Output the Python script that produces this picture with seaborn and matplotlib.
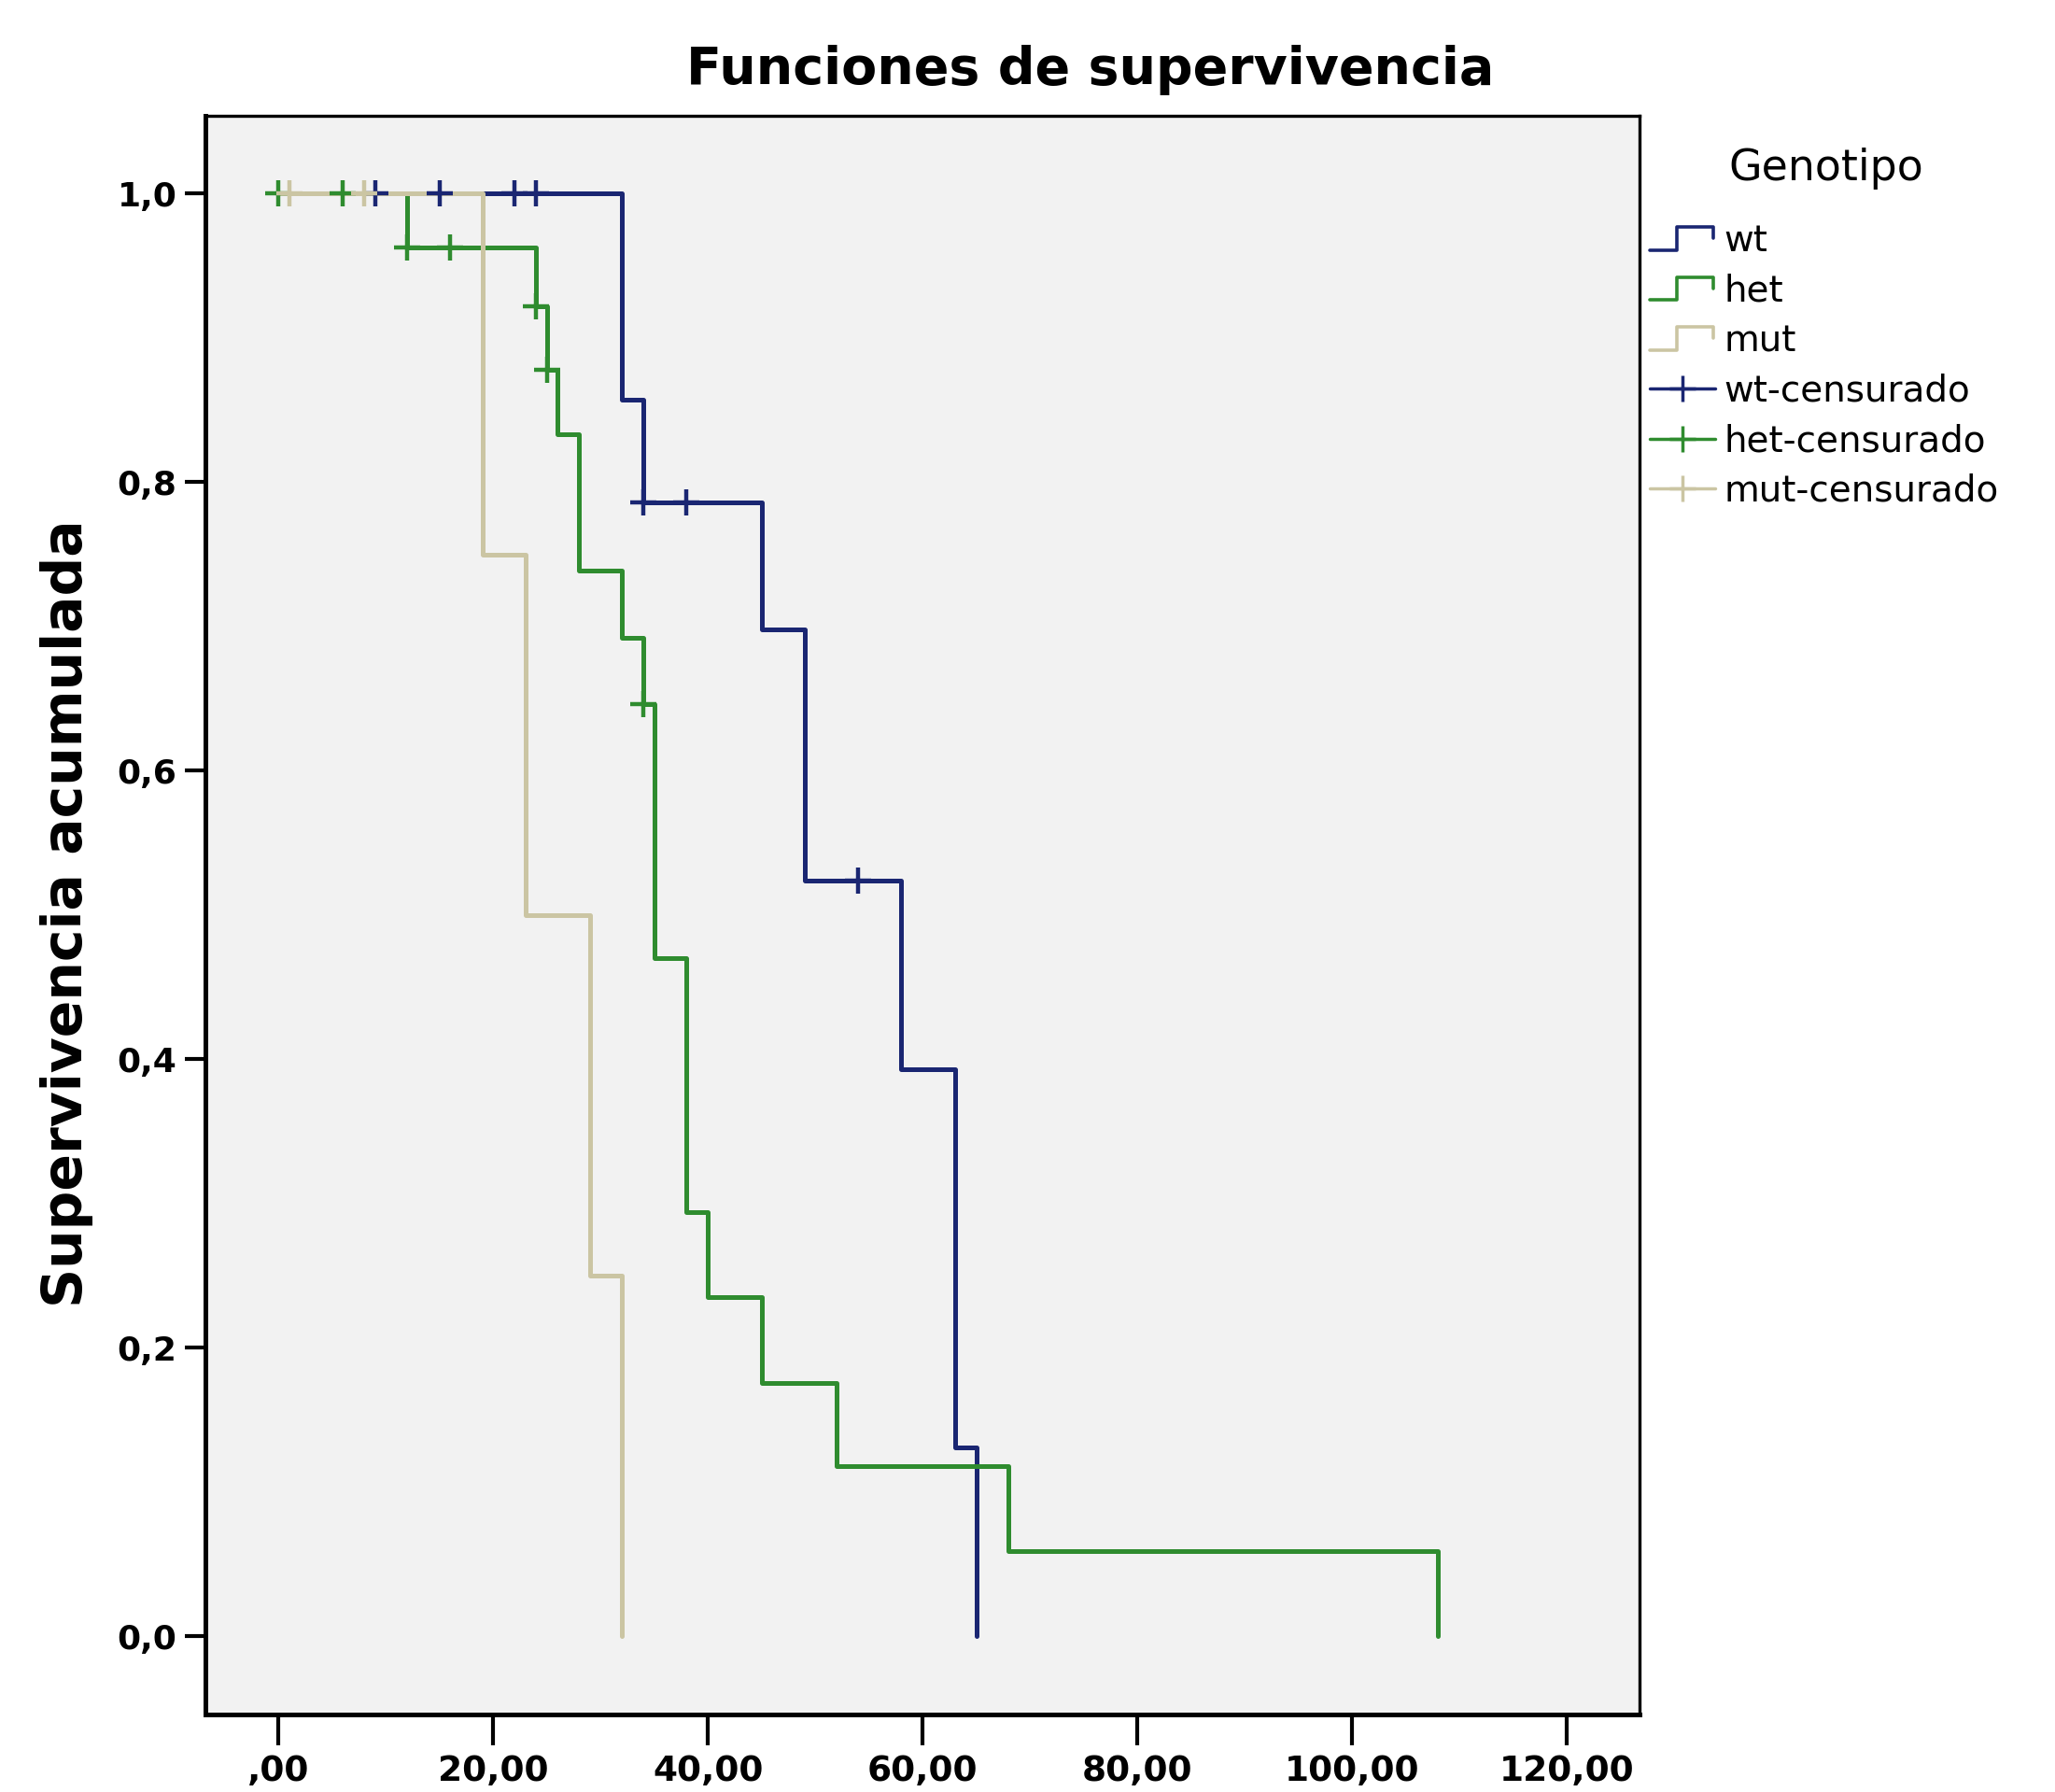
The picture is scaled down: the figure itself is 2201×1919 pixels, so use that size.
#!/usr/bin/env python3
"""Funciones de supervivencia (Kaplan-Meier) por genotipo
"""

import numpy as np
import pandas as pd
import matplotlib
matplotlib.use("Agg")
import matplotlib.pyplot as plt
from matplotlib.lines import Line2D
from matplotlib.legend_handler import HandlerBase
import seaborn as sns

# --- datos ---
genotipos = ["wt", "het", "mut"]
colores = {"wt": "#1a2672", "het": "#2f8c2f", "mut": "#cbc5a3"}

wt_tiempo = [0, 32, 34, 45, 49, 58, 63, 65]
wt_superv = [1.0, 0.857, 0.786, 0.698, 0.524, 0.393, 0.131, 0.0]
het_tiempo = [0, 12, 24, 25, 26, 28, 32, 34, 35, 38, 40, 45, 52, 68, 108]
het_superv = [1.0, 0.963, 0.922, 0.878, 0.833, 0.739, 0.692, 0.646,
              0.470, 0.294, 0.235, 0.176, 0.118, 0.059, 0.0]
mut_tiempo = [0, 19, 23, 29, 32]
mut_superv = [1.0, 0.75, 0.50, 0.25, 0.0]

# casos censurados
wt_cens_tiempo = [9, 15, 22, 24, 34, 38, 54]
wt_cens_superv = [1.0, 1.0, 1.0, 1.0, 0.786, 0.786, 0.524]
het_cens_tiempo = [0, 6, 12, 16, 24, 25, 34]
het_cens_superv = [1.0, 1.0, 0.963, 0.963, 0.922, 0.878, 0.646]
mut_cens_tiempo = [1, 8]
mut_cens_superv = [1.0, 1.0]

x_ticks = [0, 20, 40, 60, 80, 100, 120]
x_labels = [",00", "20,00", "40,00", "60,00", "80,00", "100,00", "120,00"]
y_ticks = [0.0, 0.2, 0.4, 0.6, 0.8, 1.0]
y_labels = ["0,0", "0,2", "0,4", "0,6", "0,8", "1,0"]


class HandlerStep(HandlerBase):
    """Dibuja el simbolo escalonado de la leyenda"""

    def create_artists(self, legend, orig_handle, xdescent, ydescent,
                       width, height, fontsize, trans):
        xs = np.array([0.0, 0.42, 0.42, 0.97, 0.97]) * width - xdescent
        ys = np.array([0.05, 0.05, 0.95, 0.95, 0.5]) * height - ydescent
        line = Line2D(xs, ys, color=orig_handle.get_color(),
                      linewidth=orig_handle.get_linewidth(), transform=trans)
        return [line]


def main():
    curvas = pd.concat([
        pd.DataFrame({"tiempo": wt_tiempo, "superv": wt_superv, "Genotipo": "wt"}),
        pd.DataFrame({"tiempo": het_tiempo, "superv": het_superv, "Genotipo": "het"}),
        pd.DataFrame({"tiempo": mut_tiempo, "superv": mut_superv, "Genotipo": "mut"}),
    ], ignore_index=True)
    cens = pd.concat([
        pd.DataFrame({"tiempo": wt_cens_tiempo, "superv": wt_cens_superv, "Genotipo": "wt"}),
        pd.DataFrame({"tiempo": het_cens_tiempo, "superv": het_cens_superv, "Genotipo": "het"}),
        pd.DataFrame({"tiempo": mut_cens_tiempo, "superv": mut_cens_superv, "Genotipo": "mut"}),
    ], ignore_index=True)

    sns.set_style("white")
    plt.rcParams["font.family"] = ["DejaVu Sans"]
    plt.rcParams["text.color"] = "black"
    plt.rcParams["xtick.color"] = "black"
    plt.rcParams["ytick.color"] = "black"

    fig = plt.figure(figsize=(22.01, 19.19), dpi=100)
    ax = fig.add_axes([0.1, 0.0433, 0.6978, 0.8921])
    ax.set_facecolor("#f2f2f2")

    for g in genotipos:
        sub = curvas[curvas["Genotipo"] == g]
        sns.lineplot(data=sub, x="tiempo", y="superv", color=colores[g],
                     drawstyle="steps-post", estimator=None, sort=False,
                     linewidth=3.6, ax=ax, legend=False, zorder=2)
    for g in genotipos:
        sub = cens[cens["Genotipo"] == g]
        sns.scatterplot(data=sub, x="tiempo", y="superv", color=colores[g],
                        marker="+", s=420, linewidth=3.2, ax=ax,
                        legend=False, zorder=3)

    ax.set_xlim(-6.8, 126.8)
    ax.set_ylim(-0.054, 1.054)
    ax.set_xticks(x_ticks)
    ax.set_xticklabels(x_labels)
    ax.set_yticks(y_ticks)
    ax.set_yticklabels(y_labels)
    ax.set_xlabel("")
    ax.set_ylabel("")
    ax.tick_params(axis="x", direction="out", length=24, width=3, pad=7,
                   labelsize=27, bottom=True, labelcolor="black")
    ax.tick_params(axis="y", direction="out", length=16, width=3, pad=6,
                   labelsize=26, left=True, labelcolor="black")
    for lab in ax.get_xticklabels() + ax.get_yticklabels():
        lab.set_fontweight("bold")

    for side in ["left", "bottom"]:
        ax.spines[side].set_linewidth(3.6)
        ax.spines[side].set_color("black")
    for side in ["top", "right"]:
        ax.spines[side].set_linewidth(2.4)
        ax.spines[side].set_color("black")

    fig.text(0.5307, 0.953, "Funciones de supervivencia", ha="center",
             va="baseline", fontsize=40, fontweight="bold", color="black")
    fig.text(0.0327, 0.4904, "Supervivencia acumulada", ha="center",
             va="center", rotation=90, fontsize=42, fontweight="bold",
             color="black")

    # titulo de la leyenda como texto aparte para controlar el hueco
    fig.text(0.8887, 0.906, "Genotipo", ha="center", va="center",
             fontsize=33, color="black")

    handles = [Line2D([], [], color=colores[g], linewidth=2.6) for g in genotipos]
    handles += [Line2D([], [], color=colores[g], linewidth=2.5, marker="+",
                       markersize=20, markeredgewidth=2.5) for g in genotipos]
    labels = genotipos + [g + "-censurado" for g in genotipos]
    step_map = {h: HandlerStep() for h in handles[:3]}
    leg = ax.legend(handles, labels, loc="upper left",
                    bbox_to_anchor=(0.8028, 0.8755),
                    bbox_transform=fig.transFigure, frameon=False,
                    fontsize=28, borderpad=0,
                    borderaxespad=0, handlelength=1.8, handletextpad=0.25,
                    labelspacing=0.4, handler_map=step_map, numpoints=1)
    for t in leg.get_texts():
        t.set_color("black")

    fig.savefig("out.png", dpi=100, facecolor="white")


if __name__ == "__main__":
    main()
